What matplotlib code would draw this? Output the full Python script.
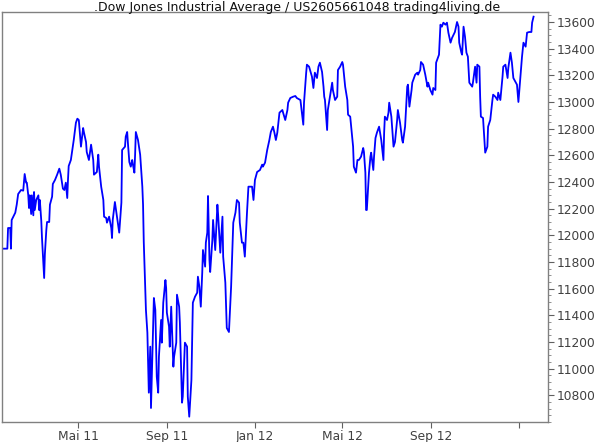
#!/usr/bin/env python3
# coding: utf-8

import pandas as pd
import matplotlib
matplotlib.use("Agg")
import matplotlib.pyplot as plt
from matplotlib.ticker import MultipleLocator, FixedLocator

start = "2011-01-17"
# Tage seit start und Schlusskurs
days = [0, 6, 7, 10, 11, 12, 17, 19, 21, 25, 28, 30, 32, 33, 35, 36, 37, 39, 40, 42,
        43, 44, 46, 49, 50, 51, 53, 54, 57, 58, 60, 61, 64, 65, 68, 69, 72, 75, 78, 80,
        83, 85, 87, 89, 90, 91, 94, 98, 101, 103, 105, 108, 111, 112, 115, 116, 119, 122, 125, 126,
        130, 132, 133, 136, 139, 140, 143, 144, 147, 150, 151, 152, 155, 157, 159, 161, 164, 165, 169, 170,
        172, 173, 175, 177, 179, 180, 182, 183, 184, 187, 190, 193, 194, 195, 198, 200, 202, 204, 205, 208,
        209, 211, 213, 215, 216, 219, 220, 222, 225, 226, 227, 230, 231, 233, 236, 237, 240, 241, 244, 245,
        248, 249, 252, 255, 256, 258, 261, 262, 263, 266, 269, 270, 272, 274, 276, 277, 280, 281, 283, 284,
        286, 287, 290, 291, 294, 297, 298, 301, 304, 305, 308, 310, 313, 316, 319, 322, 324, 327, 328, 331,
        333, 335, 338, 340, 345, 347, 349, 352, 356, 359, 360, 363, 366, 369, 371, 374, 376, 378, 380, 383,
        387, 388, 391, 394, 395, 398, 402, 405, 407, 412, 414, 416, 417, 420, 421, 424, 428, 430, 432, 435,
        437, 439, 442, 444, 445, 446, 449, 450, 453, 456, 457, 460, 463, 464, 467, 470, 471, 474, 477, 478,
        481, 484, 485, 486, 489, 491, 493, 496, 499, 500, 502, 503, 504, 507, 509, 510, 513, 514, 516, 518,
        521, 524, 525, 527, 528, 529, 532, 534, 535, 538, 539, 541, 543, 546, 547, 550, 553, 554, 557, 560,
        561, 563, 566, 567, 571, 574, 575, 578, 579, 582, 585, 588, 589, 592, 595, 596, 599, 600, 604, 606,
        608, 610, 613, 615, 617, 620, 622, 626, 629, 631, 632, 635, 636, 638, 640, 642, 644, 646, 650, 651,
        654, 656, 657, 660, 661, 662, 665, 667, 668, 671, 672, 675, 678, 679, 682, 685, 686, 689, 692, 693,
        696, 699, 700, 703, 705, 707, 710, 712, 714, 717, 719, 721, 724, 726, 729, 732, 733, 735]
close = [11900, 11900, 12055, 12055, 11900, 12115, 12170, 12230, 12310, 12340, 12335, 12460, 12395, 12395, 12300, 12205, 12300, 12160, 12300, 12150,
         12325, 12190, 12265, 12300, 12190, 12265, 12110, 11980, 11680, 11860, 12040, 12100, 12100, 12230, 12290, 12385, 12415, 12455, 12500, 12455,
         12350, 12340, 12395, 12280, 12415, 12520, 12565, 12715, 12845, 12875, 12865, 12665, 12805, 12775, 12700, 12625, 12565, 12680, 12565, 12455,
         12475, 12605, 12515, 12365, 12265, 12140, 12130, 12095, 12140, 12055, 11980, 12115, 12250, 12175, 12095, 12020, 12245, 12640, 12665, 12740,
         12775, 12695, 12550, 12515, 12565, 12530, 12470, 12605, 12775, 12715, 12605, 12365, 12230, 11950, 11440, 11270, 10820, 11165, 10705, 11315,
         11530, 11440, 10940, 10820, 11090, 11365, 11195, 11495, 11665, 11605, 11420, 11315, 11165, 11465, 11015, 11090, 11195, 11555, 11465, 11345,
         10745, 10790, 11195, 11165, 10790, 10640, 10915, 11195, 11495, 11540, 11570, 11690, 11615, 11465, 11720, 11890, 11765, 11945, 12020, 12295,
         11815, 11725, 11965, 12115, 11890, 12230, 12155, 11870, 12140, 11840, 11645, 11305, 11275, 11615, 12095, 12170, 12265, 12245, 12095, 11945,
         11945, 11840, 12170, 12365, 12365, 12265, 12415, 12475, 12490, 12530, 12515, 12545, 12640, 12715, 12775, 12815, 12770, 12715, 12770, 12920,
         12940, 12920, 12865, 12940, 12995, 13030, 13040, 13045, 13030, 13015, 12920, 12830, 12995, 13220, 13280, 13265, 13190, 13105, 13220, 13180,
         13265, 13295, 13225, 13115, 13040, 13015, 12790, 12940, 13040, 13145, 13090, 13015, 13040, 13240, 13265, 13300, 13280, 13115, 13015, 12905,
         12890, 12715, 12665, 12515, 12470, 12565, 12565, 12590, 12655, 12625, 12470, 12190, 12190, 12470, 12590, 12620, 12490, 12590, 12730, 12770,
         12815, 12715, 12665, 12565, 12770, 12890, 12865, 12920, 12995, 12890, 12815, 12665, 12700, 12865, 12940, 12845, 12715, 12695, 12815, 13115,
         13130, 12965, 13090, 13145, 13205, 13220, 13205, 13240, 13300, 13280, 13205, 13115, 13145, 13090, 13055, 13105, 13090, 13295, 13355, 13580,
         13565, 13595, 13580, 13595, 13520, 13445, 13480, 13525, 13600, 13565, 13445, 13370, 13355, 13565, 13490, 13370, 13340, 13145, 13115, 13145,
         13265, 13145, 13280, 13265, 13040, 12890, 12880, 12715, 12620, 12665, 12815, 12865, 13015, 13055, 13040, 13015, 13070, 13015, 13190, 13265,
         13280, 13180, 13255, 13370, 13295, 13180, 13150, 13130, 13000, 13205, 13340, 13445, 13415, 13520, 13525, 13525, 13595, 13640]

tick_dates = ["2011-05-01", "2011-09-01", "2012-01-01", "2012-05-01", "2012-09-01", "2013-01-01"]
tick_labels = ["Mai 11", "Sep 11", "Jan 12", "Mai 12", "Sep 12", ""]
y_ticks = list(range(10800, 13601, 200))

t0 = pd.Timestamp(start)
dates = t0 + pd.to_timedelta(days, unit="D")

fig = plt.figure(figsize=(6, 4.42), dpi=100)
ax = fig.add_axes([2 / 600, 20 / 442, 546 / 600, 410 / 442])
ax.plot(dates, close, color="#0000ff", lw=1.3)

ax.set_xlim(t0 - pd.Timedelta(days=1.4), t0 + pd.Timedelta(days=755))
ax.set_ylim(10600, 13675)

ax.yaxis.tick_right()
ax.set_yticks(y_ticks)
ax.yaxis.set_minor_locator(MultipleLocator(50))
ax.xaxis.set_major_locator(FixedLocator([matplotlib.dates.date2num(pd.Timestamp(d)) for d in tick_dates]))
ax.set_xticklabels(tick_labels)

for s in ax.spines.values():
    s.set_color("#808080")
    s.set_linewidth(1)
ax.tick_params(axis="both", which="major", length=4, color="#606060",
               labelsize=8.8, labelcolor="#404040", pad=2)
ax.tick_params(axis="y", which="minor", length=2, color="#808080")

fig.text(0.495, 0.997, ".Dow Jones Industrial Average / US2605661048 trading4living.de",
         ha="center", va="top", fontsize=9, color="#101010")

fig.savefig("out.png", dpi=100)
